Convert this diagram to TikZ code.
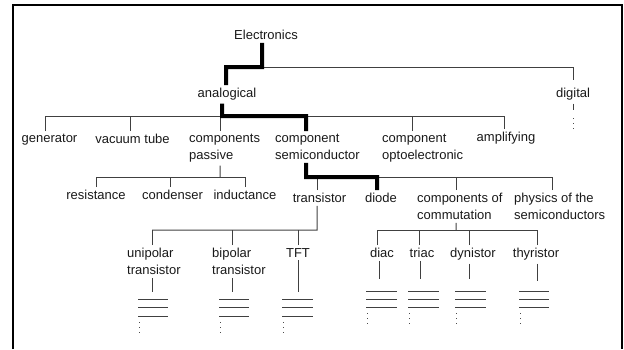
\documentclass[tikz,border=0pt]{standalone}
\usepackage{fontspec}
\setmainfont{Liberation Sans}
\newcommand\kid[4][thinln]{\draw[#1] ([xshift=#3]#2) -- ([xshift=#3]#2 |- #4);}
\newcommand\bars[4]{%
  \draw[thinln] (#1,#3) -- (#2,#3) (#1,{#3+#4}) -- (#2,{#3+#4}) (#1,{#3+2*#4}) -- (#2,{#3+2*#4});
  \draw[dotln] ({#1+1},{#3+2*#4+6}) -- ({#1+1},{#3+2*#4+18});}
\begin{document}
\begin{tikzpicture}[x=1bp,y=-1bp,
  lbl/.style={inner xsep=0pt,inner ysep=3bp,font=\fontsize{13bp}{17bp}\selectfont,text=black!90},
  two/.style={lbl,align=left,anchor=north west},
  one/.style={lbl,anchor=north},
  thinln/.style={draw=black!75,line width=1bp},
  heavy/.style={draw=black,line width=4bp},
  dotln/.style={draw=black!70,line width=1bp,dash pattern=on 1bp off 4bp}]
\useasboundingbox (0,0) rectangle (624,349);
\draw[line width=2.5bp] (13,349) -- (13,5) -- (622,5) -- (622,349);

% nodes
\node[one] (elec) at (266,27) {Electronics};
\node[one] (ana) at (227,85) {analogical};
\node[one] (dig) at (573,85) {digital};
\node[one] (gen) at (49.5,131) {generator};
\node[one] (vac) at (132.5,131) {vacuum tube};
\node[two] (pas) at (189,131) {components\\passive};
\node[two] (semi) at (275,131) {component\\semiconductor};
\node[two] (opto) at (382,131) {component\\optoelectronic};
\node[one] (amp) at (506,129) {amplifying};
\node[one] (res) at (96,187) {resistance};
\node[one] (cond) at (172.5,187) {condenser};
\node[one] (ind) at (245,187) {inductance};
\node[one] (tra) at (319.5,190) {transistor};
\node[one] (dio) at (381,190) {diode};
\node[two] (comm) at (417,190) {components of\\commutation};
\node[two] (phys) at (514,190) {physics of the\\semiconductors};
\node[two] (uni) at (127,245) {unipolar\\transistor};
\node[two] (bip) at (212,245) {bipolar\\transistor};
\node[one] (tft) at (298,245) {TFT};
\node[one] (diac) at (382,245) {diac};
\node[one] (triac) at (422,245) {triac};
\node[one] (dyn) at (473,245) {dynistor};
\node[one] (thy) at (536,245) {thyristor};

% bus junctions
\coordinate (bE) at (262,67);
\coordinate (bA) at (222,116);
\coordinate (bP) at (220,177);
\coordinate (bS) at (306,177);
\coordinate (bT) at (317,230);
\coordinate (bC) at (456,230);

% Electronics
\draw[thinln] (bE) -| ([yshift=5bp]dig.north);
\draw[heavy] ([xshift=-4bp]elec.south) -- (bE) -| ([xshift=-1bp]ana.north);

% analogical
\draw[thinln] ([xshift=-4.5bp]gen.north |- bA) -- ([xshift=-2bp]amp.north |- bA);
\kid{gen.north}{-4.5bp}{bA}
\kid{vac.north}{-2.5bp}{bA}
\kid{pas.north west}{31bp}{bA}
\kid{opto.north west}{30bp}{bA}
\kid{amp.north}{-2bp}{bA}
\draw[heavy] ([xshift=-5bp]ana.south) -- (bA) -- ([xshift=31bp]semi.north west |- bA) -- ([xshift=31bp]semi.north west);

% passive
\draw[thinln] ([xshift=31bp]pas.south west) -- (bP);
\draw[thinln] (res.north |- bP) -- (ind.north |- bP);
\kid{res.north}{0bp}{bP}
\kid{cond.north}{-2.5bp}{bP}
\kid{ind.north}{0bp}{bP}

% semiconductor
\draw[thinln] ([xshift=-4bp]dio.north |- bS) -- ([xshift=38bp]phys.north west |- bS);
\kid{tra.north}{-2.5bp}{bS}
\kid{comm.north west}{39bp}{bS}
\kid{phys.north west}{38bp}{bS}
\draw[heavy] ([xshift=31bp]semi.south west) -- (bS) -- ([xshift=-4bp]dio.north |- bS) -- ([xshift=-4bp]dio.north);

% transistor
\draw[thinln] ([xshift=-2.5bp]tra.south) -- (bT) -- ([xshift=25bp]uni.north west |- bT);
\kid{uni.north west}{25bp}{bT}
\kid{bip.north west}{20bp}{bT}
\kid{tft.north}{0bp}{bT}

% commutation
\draw[thinln] ([xshift=39bp]comm.south west) -- (bC);
\draw[thinln] ([xshift=-5bp]diac.north |- bC) -- ([xshift=1bp]thy.north |- bC);
\kid{diac.north}{-5bp}{bC}
\kid{triac.north}{-3bp}{bC}
\kid{dyn.north}{-4bp}{bC}
\kid{thy.north}{1bp}{bC}

% continuation marks
\draw[thinln] (dig.south) -- (dig.south |- 0,110);
\draw[dotln] (573,118) -- (573,130);

\draw[thinln] ([xshift=25bp]uni.south west) -- ([xshift=25bp]uni.south west |- 0,292);
\draw[thinln] ([xshift=20bp]bip.south west) -- ([xshift=20bp]bip.south west |- 0,292);
\draw[thinln] (tft.south) -- (tft.south |- 0,292);
\bars{138}{168}{299}{8.5}
\bars{219}{249}{299}{8.5}
\bars{282}{313}{299}{8.5}

\draw[thinln] ([xshift=-3bp]diac.south) -- ([xshift=-3bp]diac.south |- 0,279);
\draw[thinln] ([xshift=-2bp]triac.south) -- ([xshift=-2bp]triac.south |- 0,279);
\draw[thinln] ([xshift=-4bp]dyn.south) -- ([xshift=-4bp]dyn.south |- 0,279);
\draw[thinln] ([xshift=1bp]thy.south) -- ([xshift=1bp]thy.south |- 0,281);
\bars{366}{397}{291}{8}
\bars{408}{439}{291}{8}
\bars{455}{486}{291}{8}
\bars{519}{549}{291}{8}
\end{tikzpicture}
\end{document}
